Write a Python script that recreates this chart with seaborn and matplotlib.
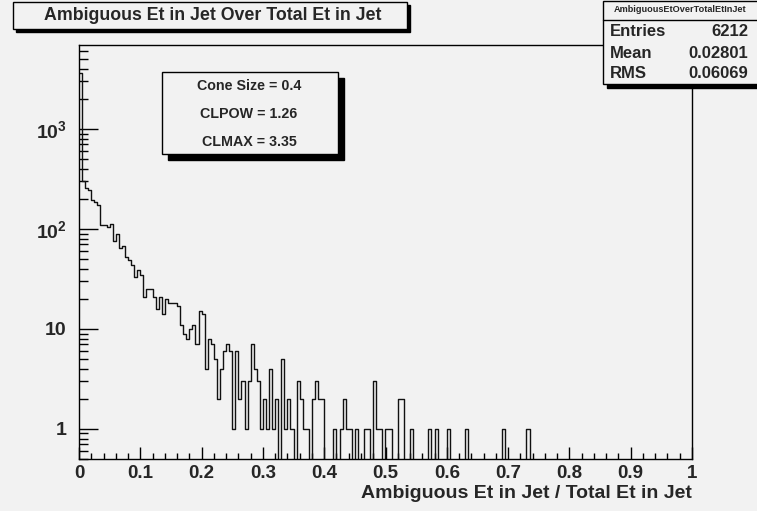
import numpy as np
import pandas as pd
import matplotlib.pyplot as plt
import seaborn as sns
from matplotlib.patches import Rectangle

# histogram contents, 200 bins between 0 and 1
bin_width = 0.005
counts = [
    3630, 300, 255, 245, 195, 186, 172, 110, 110, 104,
    112, 75, 90, 64, 68, 53, 49, 44, 33, 39,
    35, 21, 25, 25, 21, 16, 21, 14, 20, 18,
    18, 18, 17, 11, 9, 8, 10, 11, 7, 15,
    14, 4, 8, 7, 5, 2, 4, 6, 7, 6,
    1, 6, 2, 3, 1, 3, 7, 4, 3, 1,
    2, 1, 4, 1, 2, 0, 5, 1, 2, 1,
    0, 3, 2, 1, 1, 0, 2, 3, 2, 2,
    0, 0, 0, 1, 0, 1, 2, 1, 1, 0,
    1, 0, 0, 1, 1, 0, 3, 1, 1, 0,
    1, 1, 0, 0, 2, 2, 0, 0, 1, 0,
    0, 0, 0, 0, 1, 0, 1, 0, 0, 0,
    1, 0, 0, 0, 0, 0, 1, 0, 0, 0,
    0, 0, 0, 0, 0, 0, 0, 0, 1, 0,
    0, 0, 0, 0, 0, 0, 1, 0, 0, 0,
    0, 0, 0, 0, 0, 0, 0, 0, 0, 0,
    0, 0, 0, 0, 0, 0, 0, 0, 0, 0,
    0, 0, 0, 0, 0, 0, 0, 0, 0, 0,
    0, 0, 0, 0, 0, 0, 0, 0, 0, 0,
    0, 0, 0, 0, 0, 0, 0, 0, 0, 0,
]
x_ticks = [0, 0.1, 0.2, 0.3, 0.4, 0.5, 0.6, 0.7, 0.8, 0.9, 1]
x_tick_labels = ['0', '0.1', '0.2', '0.3', '0.4', '0.5', '0.6', '0.7', '0.8', '0.9', '1']
y_ticks = [1, 10, 100, 1000]
y_tick_labels = ['1', '10', r'$\mathbf{10^{2}}$', r'$\mathbf{10^{3}}$']
stat_names = ['Entries', 'Mean', 'RMS']
stat_values = ['6212', '0.02801', '0.06069']
params = ['Cone Size = 0.4', 'CLPOW = 1.26', 'CLMAX = 3.35']

W, H = 757, 511
bg = '#f2f2f2'

sns.set_style('white')
plt.rcParams['font.family'] = ['Liberation Sans', 'DejaVu Sans']
plt.rcParams['font.weight'] = 'bold'
plt.rcParams['mathtext.fontset'] = 'custom'
plt.rcParams['mathtext.bf'] = 'Liberation Sans:bold'
plt.rcParams['mathtext.rm'] = 'Liberation Sans:bold'

fig = plt.figure(figsize=(W / 100, H / 100), dpi=100, facecolor=bg)


def fx(px):
    return px / W


def fy(py):
    return 1 - py / H


ax = fig.add_axes([fx(79), fy(459), fx(692) - fx(79), fy(45) - fy(459)])
ax.set_facecolor(bg)

df = pd.DataFrame({
    'center': (np.arange(len(counts)) + 0.5) * bin_width,
    'count': counts,
})
sns.histplot(data=df, x='center', weights='count', binwidth=bin_width, binrange=(0, 1),
             element='step', fill=False, color='#111111', linewidth=1.0, ax=ax)

ax.set_yscale('log')
ax.set_xlim(0, 1)
ax.set_ylim(0.5, 6918)
ax.set_ylabel('')
ax.set_xlabel('')

ax.set_xticks(x_ticks)
ax.set_xticklabels(x_tick_labels, fontsize=13.5, fontweight='bold')
ax.set_xticks(np.arange(0, 1.001, 0.02), minor=True)
ax.set_yticks(y_ticks)
ax.set_yticklabels(y_tick_labels, fontsize=14, fontweight='bold')
ax.tick_params(which='both', bottom=True, left=True, top=False, right=False, color='black')
ax.tick_params(axis='x', which='major', direction='in', length=8.5, width=1, pad=4)
ax.tick_params(axis='x', which='minor', direction='in', length=4.3, width=1)
ax.tick_params(axis='y', which='major', direction='in', length=13.5, width=1, pad=9)
ax.tick_params(axis='y', which='minor', direction='in', length=6.5, width=1)
ax.tick_params(axis='y', which='minor', labelleft=False)
for s in ax.spines.values():
    s.set_color('black')
    s.set_linewidth(1)

fig.text(fx(692), fy(493), 'Ambiguous Et in Jet / Total Et in Jet', ha='right',
         va='center', fontsize=14, fontweight='bold')


def box(x0, y0, x1, y1, shadow=3):
    fig.patches.append(Rectangle((fx(x0 + shadow), fy(y1 + shadow)), fx(x1) - fx(x0),
                                 fy(y0) - fy(y1), transform=fig.transFigure,
                                 facecolor='black', edgecolor='black', zorder=5))
    fig.patches.append(Rectangle((fx(x0), fy(y1)), fx(x1) - fx(x0), fy(y0) - fy(y1),
                                 transform=fig.transFigure, facecolor=bg,
                                 edgecolor='black', linewidth=1, zorder=6))


# title box
box(13, 2, 407, 29, shadow=3)
fig.text(fx(213), fy(16), 'Ambiguous Et in Jet Over Total Et in Jet', ha='center',
         va='center', fontsize=12.8, fontweight='bold', zorder=7)

# stats box
box(603, 1, 760, 84, shadow=4)
fig.lines.append(plt.Line2D([fx(603), fx(760)], [fy(20), fy(20)], transform=fig.transFigure,
                            color='black', linewidth=1, zorder=7))
fig.text(fx(680), fy(10), 'AmbiguousEtOverTotalEtInJet', ha='center', va='center',
         fontsize=6.6, fontweight='bold', zorder=7)
for i, (n, v) in enumerate(zip(stat_names, stat_values)):
    yy = 32 + 21 * i
    fig.text(fx(610), fy(yy), n, ha='left', va='center', fontsize=12,
             fontweight='bold', zorder=7)
    fig.text(fx(748), fy(yy), v, ha='right', va='center', fontsize=12,
             fontweight='bold', zorder=7)

# parameter box
box(162, 72, 338, 154, shadow=6)
for i, p in enumerate(params):
    fig.text(fx(249), fy(86 + 28 * i), p, ha='center', va='center', fontsize=10.3,
             fontweight='bold', zorder=7)

fig.savefig('out.png', dpi=100, facecolor=bg)
plt.close(fig)
